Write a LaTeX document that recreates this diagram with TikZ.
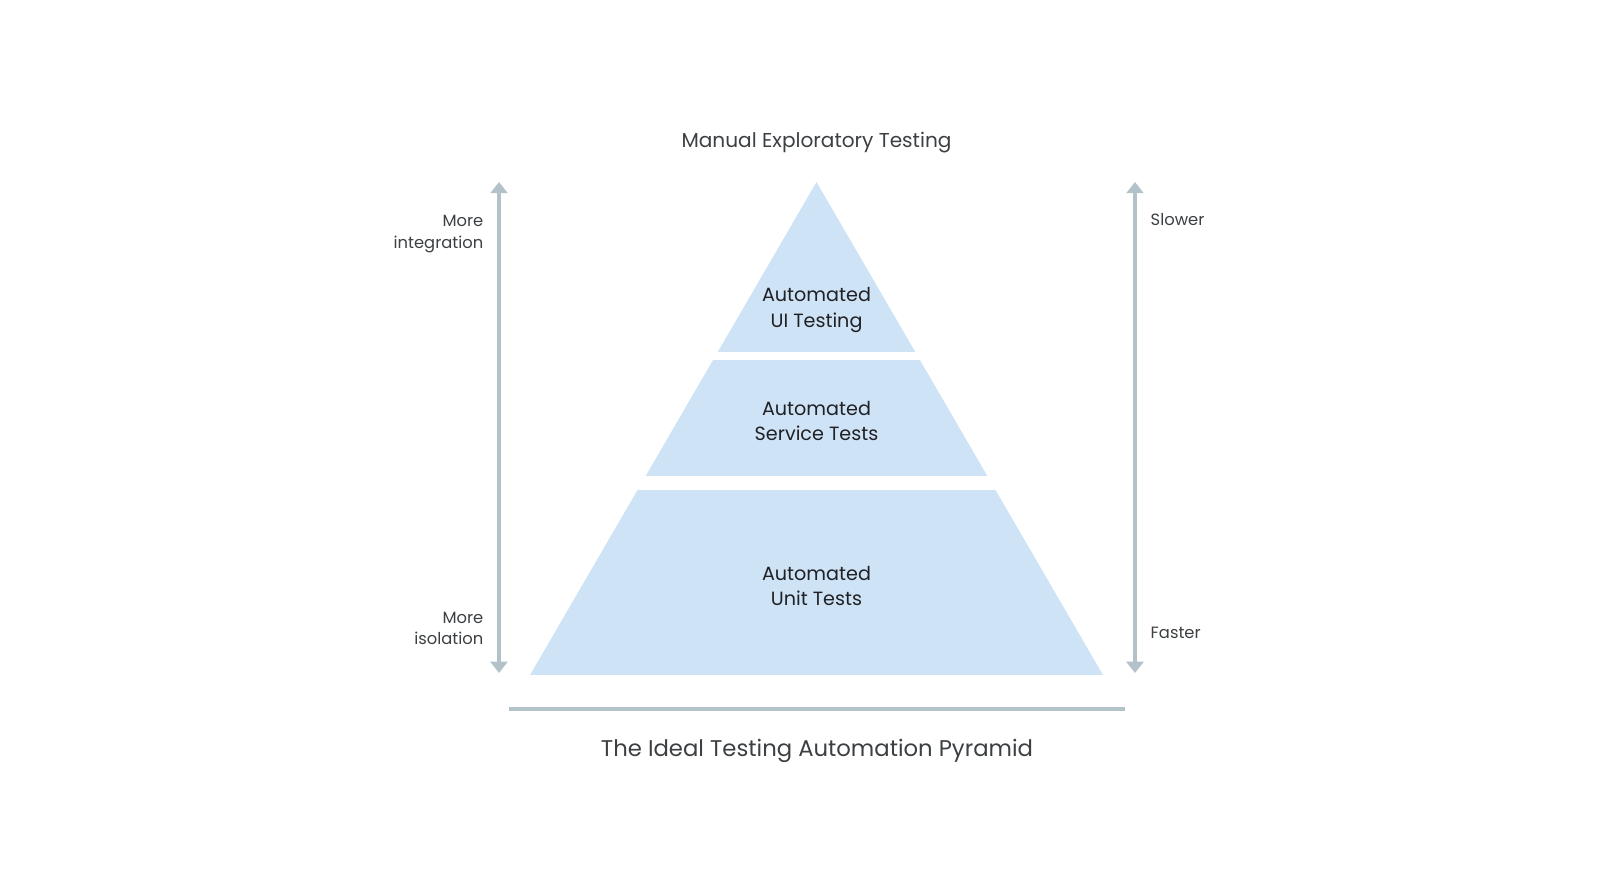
\documentclass[tikz,border=0pt]{standalone}
\usepackage{fontspec}
\setmainfont{Poppins}
\usepackage{tikz}
\usetikzlibrary{positioning,arrows.meta}
\definecolor{PyrBlue}{HTML}{CFE3F7}
\definecolor{AxisGray}{HTML}{B3C1C8}
\definecolor{TextDark}{HTML}{202124}
\definecolor{TextSoft}{HTML}{3C4043}

\tikzset{
  axisarrow/.style={AxisGray, line width=0.95pt,
    {Triangle[width=4.8pt,length=3.2pt]}-{Triangle[width=4.8pt,length=3.2pt]}},
  layerlabel/.style={font=\fontsize{5.45}{7.3}\selectfont, text=TextDark, align=center},
  sidelabel/.style={font=\fontsize{4.65}{6.1}\selectfont, text=TextSoft, inner sep=0pt},
}

\begin{document}
\begin{tikzpicture}[x=1cm,y=1cm]
  \useasboundingbox (0,0) rectangle (16,8.93);

  % pyramid, cut into three layers
  \begin{scope}
    \clip (8.165,7.11) -- (5.30,2.18) -- (11.03,2.18) -- cycle;
    \fill[PyrBlue] (5,5.41) rectangle (11.3,7.2);
    \fill[PyrBlue] (5,4.17) rectangle (11.3,5.33);
    \fill[PyrBlue] (5,2.18) rectangle (11.3,4.03);
  \end{scope}

  \node[layerlabel] (ui) at (8.165,5.83) {Automated\\UI Testing};
  \node[layerlabel] (service) at (8.165,4.72) {Automated\\Service Tests};
  \node[layerlabel] (unit) at (8.165,3.07) {Automated\\Unit Tests};

  \node[font=\fontsize{5.72}{6.8}\selectfont, text=TextSoft] (manual) at (8.165,7.50)
  {Manual Exploratory Testing};

  % side axes
  \coordinate (leftTop) at (4.99,7.11);
  \coordinate (leftBot) at (4.99,2.20);
  \coordinate (rightTop) at (11.35,7.11);
  \coordinate (rightBot) at (11.35,2.20);
  \draw[axisarrow] (leftBot) -- (leftTop);
  \draw[axisarrow] (rightBot) -- (rightTop);

  \node[sidelabel, anchor=east, align=right] (integ) at (4.84,6.59) {More\\integration};
  \node[sidelabel, anchor=east, align=right] (isol) at (4.84,2.645) {More\\isolation};
  \node[sidelabel, anchor=west] (slower) at (11.50,6.73) {Slower};
  \node[sidelabel, anchor=west] (faster) at (11.50,2.60) {Faster};

  % base line and title
  \coordinate (baseL) at (5.09,1.84);
  \coordinate (baseR) at (11.25,1.84);
  \draw[AxisGray, line width=0.9pt] (baseL) -- (baseR);

  \node[font=\fontsize{6.47}{7.6}\selectfont, text=TextSoft] (title) at (8.17,1.42)
  {The Ideal Testing Automation Pyramid};
\end{tikzpicture}
\end{document}
